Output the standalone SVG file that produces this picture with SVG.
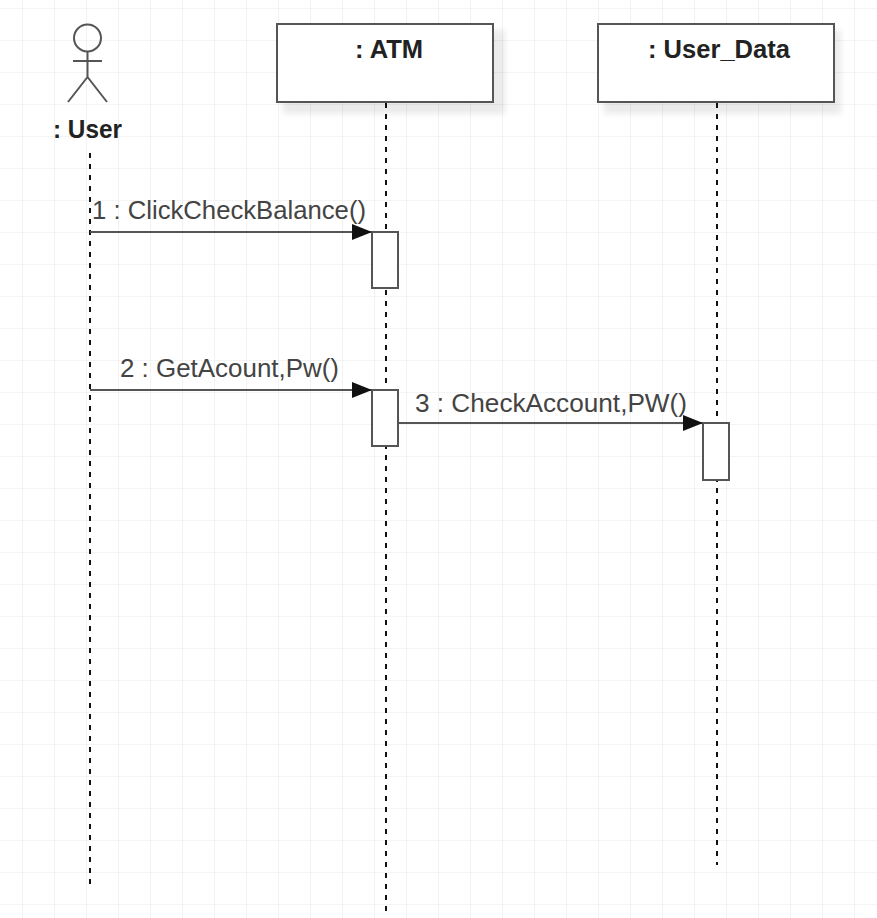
<svg xmlns="http://www.w3.org/2000/svg" width="877" height="918" viewBox="0 0 877 918">
<defs>
<pattern id="grid" x="22" y="8" width="32" height="32" patternUnits="userSpaceOnUse">
<path d="M0 0H32M0 0V32" fill="none" stroke="#e9e9e9" stroke-width="1.2"/>
</pattern>
<filter id="shadow" x="-10%" y="-10%" width="130%" height="140%">
<feGaussianBlur stdDeviation="3"/>
</filter>
<marker id="arrow" viewBox="0 0 20 16" refX="20" refY="8" markerWidth="20" markerHeight="16" markerUnits="userSpaceOnUse" orient="auto">
<path d="M0 0L20 8L0 16Z" fill="#111"/>
</marker>
<style>
.box{fill:#fff;stroke:#555;stroke-width:2}
.shadow{fill:#000;opacity:0.08}
.life{stroke:#111;stroke-width:2;stroke-dasharray:5 6;fill:none}
.msg{stroke:#555;stroke-width:2;fill:none;marker-end:url(#arrow)}
.act{fill:#fff;stroke:#555;stroke-width:2}
.name{font-family:"Liberation Sans",Arial,sans-serif;font-weight:bold;font-size:25px;fill:#222}
.lbl{font-family:"Liberation Sans",Arial,sans-serif;font-size:25px;fill:#444}
.actor{stroke:#555;stroke-width:2;fill:none}
</style>
</defs>
<rect width="877" height="918" fill="#fff"/>
<rect width="877" height="918" fill="url(#grid)"/>

<g id="user">
<circle class="actor" cx="87.5" cy="38" r="13.5" fill="#fff"/>
<path class="actor" d="M87.5 52V77M73 61H102M87.5 77L68 102M87.5 77L107 102"/>
<text class="name" x="87.5" y="138" text-anchor="middle" font-size="21" textLength="69" lengthAdjust="spacingAndGlyphs">: User</text>
</g>

<g id="atm">
<rect class="shadow" x="283" y="30" width="222" height="84" filter="url(#shadow)"/>
<rect class="box" x="277" y="24" width="216" height="78"/>
<text class="name" x="389" y="58" text-anchor="middle" textLength="68" lengthAdjust="spacingAndGlyphs">: ATM</text>
</g>

<g id="user_data">
<rect class="shadow" x="604" y="30" width="237" height="84" filter="url(#shadow)"/>
<rect class="box" x="598" y="24" width="236" height="78"/>
<text class="name" x="719" y="58" text-anchor="middle" textLength="142" lengthAdjust="spacingAndGlyphs">: User_Data</text>
</g>

<g id="lifelines">
<line class="life" x1="90" y1="153" x2="90" y2="890"/>
<line class="life" x1="386" y1="103" x2="386" y2="913"/>
<line class="life" x1="717" y1="103" x2="717" y2="865"/>
</g>

<g id="activations">
<rect class="act" x="372" y="232" width="26" height="56"/>
<rect class="act" x="372" y="390" width="26" height="56"/>
<rect class="act" x="703" y="423" width="26" height="57"/>
</g>

<g id="connectors">
<line class="msg" x1="90" y1="232" x2="372" y2="232"/>
<text class="lbl" x="92" y="219" textLength="274" lengthAdjust="spacingAndGlyphs">1 : ClickCheckBalance()</text>
<line class="msg" x1="90" y1="390" x2="372" y2="390"/>
<text class="lbl" x="120" y="377" textLength="219" lengthAdjust="spacingAndGlyphs">2 : GetAcount,Pw()</text>
<line class="msg" x1="398" y1="423" x2="703" y2="423"/>
<text class="lbl" x="415" y="412" textLength="272" lengthAdjust="spacingAndGlyphs">3 : CheckAccount,PW()</text>
</g>
</svg>
